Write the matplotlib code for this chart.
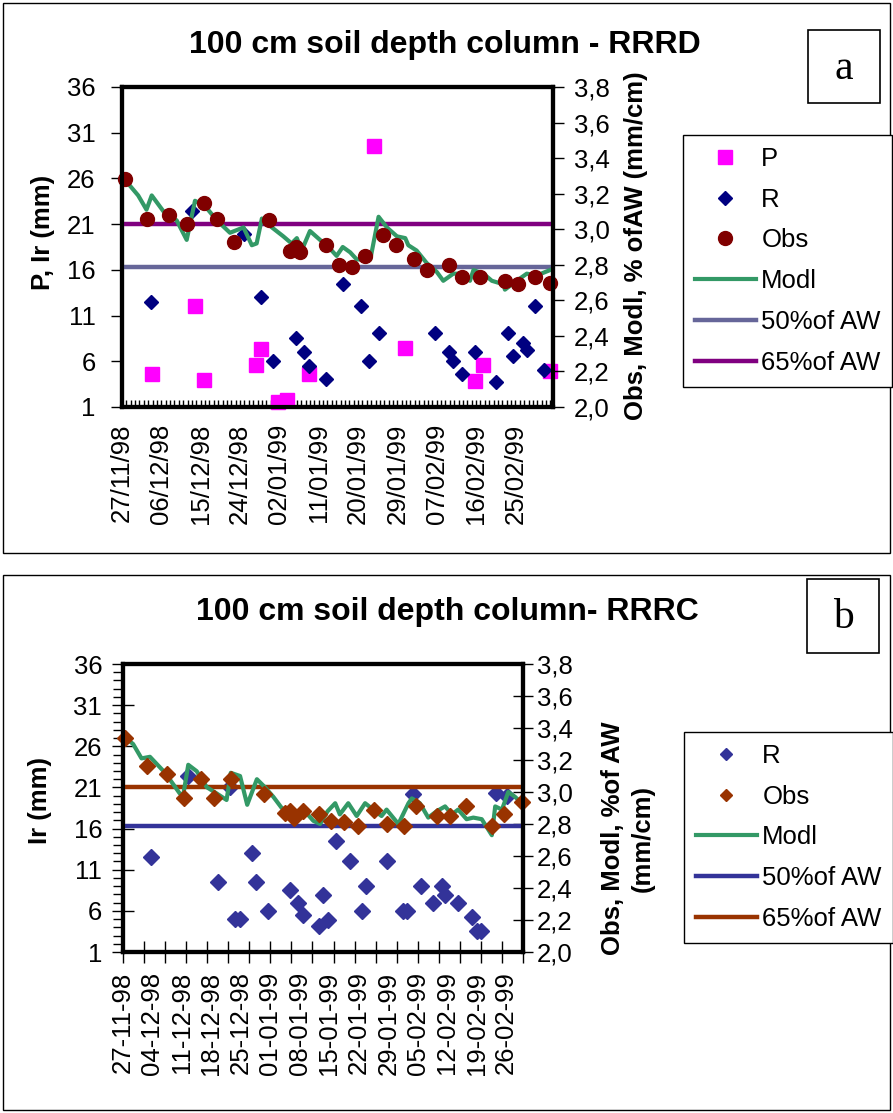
import matplotlib.pyplot as plt
from matplotlib.lines import Line2D
from matplotlib.patches import Rectangle
from matplotlib.ticker import MultipleLocator, FuncFormatter

plt.rcParams['font.family'] = ['Liberation Sans', 'DejaVu Sans']
plt.rcParams['font.size'] = 18.5

W, H = 893, 1113

# ---------------------------
# Data, panel a (RRRD) - x in days after 27/11/98
# ---------------------------
dates_a = ['27/11/98', '06/12/98', '15/12/98', '24/12/98', '02/01/99', '11/01/99',
           '20/01/99', '29/01/99', '07/02/99', '16/02/99', '25/02/99']

p_day = [6.8, 16.7, 18.8, 30.7, 31.7, 35.8, 37.7, 42.8, 57.7, 64.8, 80.8, 82.7, 97.8]
p_val = [4.6, 12.0, 3.9, 5.6, 7.3, 1.5, 1.8, 4.6, 29.5, 7.5, 3.8, 5.6, 4.9]

r_day_a = [6.6, 15.9, 27.8, 31.8, 34.6, 39.7, 41.6, 42.8, 46.7, 50.6, 54.6, 56.6, 58.7,
           71.6, 74.7, 75.7, 77.7, 80.8, 85.6, 88.4, 89.5, 91.7, 92.6, 94.5, 96.6]
r_val_a = [12.5, 22.4, 19.9, 13.0, 6.0, 8.5, 7.0, 5.5, 4.1, 14.5, 12.0, 6.0, 9.1,
           9.1, 7.0, 6.0, 4.6, 7.0, 3.7, 9.1, 6.6, 8.0, 7.2, 12.0, 5.1]

obs_day_a = [0.6, 5.8, 10.8, 14.8, 18.8, 21.8, 25.7, 33.7, 38.4, 39.7, 40.7, 46.7, 49.7,
             52.7, 55.6, 59.8, 62.7, 66.7, 69.7, 74.7, 77.7, 81.8, 87.6, 90.7, 94.5, 97.8]
obs_val_a = [3.28, 3.06, 3.08, 3.03, 3.15, 3.06, 2.93, 3.05, 2.88, 2.90, 2.87, 2.91, 2.80,
             2.79, 2.85, 2.97, 2.91, 2.83, 2.77, 2.80, 2.73, 2.73, 2.71, 2.69, 2.73, 2.70]

modl_day_a = [0.6, 3.7, 5.6, 6.8, 9.8, 12.5, 14.8, 16.7, 19.0, 21.7, 24.7, 27.8, 29.7,
              30.8, 32.0, 34.3, 36.9, 38.8, 40.0, 41.1, 43.0, 45.3, 47.6, 49.1, 50.5,
              52.2, 53.7, 56.8, 58.7, 60.6, 62.9, 64.8, 65.5, 67.4, 69.7, 72.0, 73.5,
              75.8, 78.1, 79.6, 80.4, 82.7, 84.6, 87.3, 87.6, 90.3, 92.6, 94.9, 97.9]
modl_val_a = [3.28, 3.19, 3.11, 3.19, 3.09, 3.05, 2.94, 3.16, 3.13, 3.05, 2.98, 3.01, 2.91,
              2.92, 3.06, 3.01, 2.96, 2.92, 2.95, 2.88, 2.99, 2.94, 2.89, 2.85, 2.90,
              2.87, 2.83, 2.83, 3.07, 3.01, 2.96, 2.95, 2.91, 2.88, 2.81, 2.76, 2.71,
              2.75, 2.75, 2.71, 2.77, 2.75, 2.71, 2.69, 2.66, 2.71, 2.75, 2.74, 2.77]

aw50_a = 2.79
aw65_a = 3.03

# ---------------------------
# Data, panel b (RRRC)
# ---------------------------
dates_b = ['27-11-98', '04-12-98', '11-12-98', '18-12-98', '25-12-98', '01-01-99', '08-01-99',
           '15-01-99', '22-01-99', '29-01-99', '05-02-99', '12-02-99', '19-02-99', '26-02-99']

r_day_b = [6.7, 15.4, 22.6, 25.3, 26.6, 27.8, 30.6, 31.6, 34.5, 39.7, 41.6, 42.7, 46.6,
           47.6, 48.8, 50.6, 53.8, 56.7, 57.7, 62.6, 66.6, 67.5, 68.8, 70.8, 73.7, 75.7,
           76.5, 79.6, 82.8, 84.0, 85.0, 88.6, 91.1]
r_val_b = [12.5, 22.4, 9.5, 21.1, 5.0, 5.0, 13.0, 9.5, 6.0, 8.5, 7.0, 5.5, 4.1,
           7.9, 4.9, 14.5, 12.0, 6.0, 9.0, 12.0, 6.0, 6.0, 20.2, 9.0, 7.0, 9.0,
           7.9, 7.0, 5.2, 3.6, 3.5, 20.3, 19.9]

obs_day_b = [0.5, 5.6, 10.5, 14.5, 18.5, 21.6, 25.6, 33.5, 38.5, 39.7, 40.5, 42.7, 46.6,
             49.4, 52.5, 55.7, 59.6, 62.6, 66.8, 69.5, 74.5, 77.7, 81.5, 87.7, 90.6, 94.7]
obs_val_b = [3.34, 3.16, 3.11, 2.96, 3.08, 2.96, 3.08, 2.99, 2.87, 2.88, 2.84, 2.88, 2.86,
             2.82, 2.81, 2.79, 2.89, 2.80, 2.79, 2.91, 2.85, 2.85, 2.91, 2.79, 2.86, 2.94]

modl_day_b = [0.5, 2.4, 4.4, 6.4, 10.0, 13.5, 14.3, 15.5, 17.5, 19.9, 22.3, 24.6, 25.6,
              27.8, 29.5, 31.8, 33.7, 35.7, 37.7, 40.5, 43.2, 45.2, 46.8, 48.6, 50.4,
              51.5, 53.5, 55.5, 57.5, 59.9, 61.4, 62.6, 65.4, 67.8, 68.6, 70.5, 72.5,
              74.5, 76.5, 78.1, 79.6, 81.6, 83.2, 85.2, 86.4, 87.6, 88.4, 90.0, 91.5,
              93.1, 94.7]
modl_val_b = [3.34, 3.30, 3.21, 3.22, 3.12, 2.99, 2.98, 3.17, 3.13, 3.03, 2.99, 2.95, 3.12,
              3.10, 2.92, 3.08, 3.03, 2.97, 2.90, 2.87, 2.88, 2.82, 2.80, 2.88, 2.93,
              2.86, 2.93, 2.85, 2.93, 2.88, 2.85, 2.89, 2.80, 2.93, 2.96, 2.93, 2.84,
              2.88, 2.91, 2.86, 2.89, 2.83, 2.84, 2.83, 2.78, 2.73, 2.91, 2.89, 3.00,
              2.97, 2.93]

aw50_b = 2.79
aw65_b = 3.03


def fig_box(x0, y0, x1, y1):
    return [x0 / W, 1 - y1 / H, (x1 - x0) / W, (y1 - y0) / H]


def fx(x):
    return x / W


def fy(y):
    return 1 - y / H


comma = FuncFormatter(lambda v, pos: f"{v:.1f}".replace(".", ","))

fig = plt.figure(figsize=(W / 100, H / 100), dpi=100)

# panel frames
for (x0, y0, x1, y1) in [(3, 3, 890, 553), (3, 575, 890, 1110)]:
    fig.patches.append(Rectangle((fx(x0), fy(y1)), (x1 - x0) / W, (y1 - y0) / H,
                                 transform=fig.transFigure, fill=False,
                                 edgecolor='black', linewidth=1))
for (x0, y0, x1, y1, s) in [(808, 30, 880, 103, 'a'), (807, 579, 879, 653, 'b')]:
    fig.patches.append(Rectangle((fx(x0), fy(y1)), (x1 - x0) / W, (y1 - y0) / H,
                                 transform=fig.transFigure, fill=False,
                                 edgecolor='black', linewidth=1.2))
    fig.text(fx((x0 + x1) / 2), fy((y0 + y1) / 2 + 2), s, ha='center', va='center',
             family=['Liberation Serif', 'DejaVu Serif'], fontsize=30)


def style(ax):
    for s in ax.spines.values():
        s.set_linewidth(3)
        s.set_color('black')


# ---------------------------
# Panel a
# ---------------------------
ax1 = fig.add_axes(fig_box(122, 87, 553, 407))
ax1.set_xlim(0, 98.6)
ax1.set_ylim(1, 36)
ax1.set_yticks(range(1, 37, 5))
ax1.set_xticks(range(0, 91, 9))
ax1.set_xticklabels(dates_a, rotation=90)
ax1.xaxis.set_minor_locator(MultipleLocator(1))
ax1.tick_params(axis='y', direction='out', length=8, width=1, pad=11)
ax1.tick_params(axis='x', which='both', direction='in', length=5, width=1, pad=12)
ax1.plot(p_day, p_val, 's', color='#ff00ff', ms=10.5, clip_on=False, zorder=3)
ax1.plot(r_day_a, r_val_a, 'D', color='#000080', ms=6.8, clip_on=False, zorder=3)
style(ax1)

ax2 = ax1.twinx()
ax2.set_ylim(2.0, 3.8)
ax2.yaxis.set_major_locator(MultipleLocator(0.2))
ax2.yaxis.set_major_formatter(comma)
ax2.tick_params(axis='y', direction='out', length=8, width=1, pad=7)
ax2.axhline(aw50_a, color='#666699', lw=3.2)
ax2.axhline(aw65_a, color='#800080', lw=3.2)
ax2.plot(modl_day_a, modl_val_a, '-', color='#339966', lw=3)
ax2.plot(obs_day_a, obs_val_a, 'o', color='#800000', ms=10, clip_on=False)
style(ax2)

fig.text(fx(445), fy(45), '100 cm soil depth column - RRRD', ha='center', va='center',
         fontweight='bold', fontsize=23)
fig.text(fx(43), fy(232), 'P, Ir (mm)', rotation=90, ha='center', va='center',
         fontweight='bold')
fig.text(fx(636), fy(246), 'Obs, Modl, % ofAW (mm/cm)', rotation=90, ha='center',
         va='center', fontweight='bold')

handles_a = [
    Line2D([], [], ls='none', marker='s', color='#ff00ff', ms=10.5),
    Line2D([], [], ls='none', marker='D', color='#000080', ms=6.8),
    Line2D([], [], ls='none', marker='o', color='#800000', ms=10),
    Line2D([], [], color='#339966', lw=3),
    Line2D([], [], color='#666699', lw=3.2),
    Line2D([], [], color='#800080', lw=3.2),
]
labels_a = ['P', 'R', 'Obs', 'Modl', '50%of AW', '65%of AW']
leg = fig.legend(handles_a, labels_a, loc='upper left', bbox_to_anchor=(fx(683), fy(135)),
                 frameon=True, fancybox=False, edgecolor='black', framealpha=1,
                 borderaxespad=0, handlelength=2.4, handletextpad=0.2,
                 labelspacing=0.66, borderpad=0.45)
leg.get_frame().set_linewidth(1)

# ---------------------------
# Panel b
# ---------------------------
bx1 = fig.add_axes(fig_box(123, 664, 523, 952))
bx1.set_xlim(0, 95)
bx1.set_ylim(1, 36)
bx1.set_yticks(range(1, 37, 5))
bx1.yaxis.set_minor_locator(MultipleLocator(1))
bx1.set_xticks(range(0, 92, 7))
bx1.set_xticklabels(dates_b, rotation=90)
bx1.xaxis.set_minor_locator(MultipleLocator(5))
bx1.xaxis.remove_overlapping_locs = False
bx1.tick_params(axis='y', which='major', direction='inout', length=16, width=1, pad=7)
bx1.tick_params(axis='y', which='minor', direction='out', length=7, width=1)
bx1.tick_params(axis='x', which='major', length=0, pad=14)
bx1.tick_params(axis='x', which='minor', direction='inout', length=16, width=1)
bx1.plot(r_day_b, r_val_b, 'D', color='#333399', ms=8, clip_on=False, zorder=3)
style(bx1)

bx2 = bx1.twinx()
bx2.set_ylim(2.0, 3.8)
bx2.yaxis.set_major_locator(MultipleLocator(0.2))
bx2.yaxis.set_major_formatter(comma)
bx2.tick_params(axis='y', direction='inout', length=14, width=1, pad=3)
bx2.axhline(aw50_b, color='#333399', lw=3.2)
bx2.axhline(aw65_b, color='#993300', lw=3.2)
bx2.plot(modl_day_b, modl_val_b, '-', color='#339966', lw=3)
bx2.plot(obs_day_b, obs_val_b, 'D', color='#993300', ms=8.5, clip_on=False)
style(bx2)

fig.text(fx(447), fy(612), '100 cm soil depth column- RRRC', ha='center', va='center',
         fontweight='bold', fontsize=23)
fig.text(fx(40), fy(800), 'Ir (mm)', rotation=90, ha='center', va='center',
         fontweight='bold')
fig.text(fx(628), fy(838), 'Obs, Modl, %of AW\n(mm/cm)', rotation=90, ha='center',
         va='center', fontweight='bold', multialignment='center', linespacing=1.3)

handles_b = [
    Line2D([], [], ls='none', marker='D', color='#333399', ms=6.5),
    Line2D([], [], ls='none', marker='D', color='#993300', ms=6.5),
    Line2D([], [], color='#339966', lw=3),
    Line2D([], [], color='#333399', lw=3.2),
    Line2D([], [], color='#993300', lw=3.2),
]
labels_b = ['R', 'Obs', 'Modl', '50%of AW', '65%of AW']
leg_b = fig.legend(handles_b, labels_b, loc='upper left', bbox_to_anchor=(fx(684), fy(732)),
                   frameon=True, fancybox=False, edgecolor='black', framealpha=1,
                   borderaxespad=0, handlelength=2.4, handletextpad=0.2,
                   labelspacing=0.66, borderpad=0.45)
leg_b.get_frame().set_linewidth(1)

plt.savefig('out.png', dpi=100)
